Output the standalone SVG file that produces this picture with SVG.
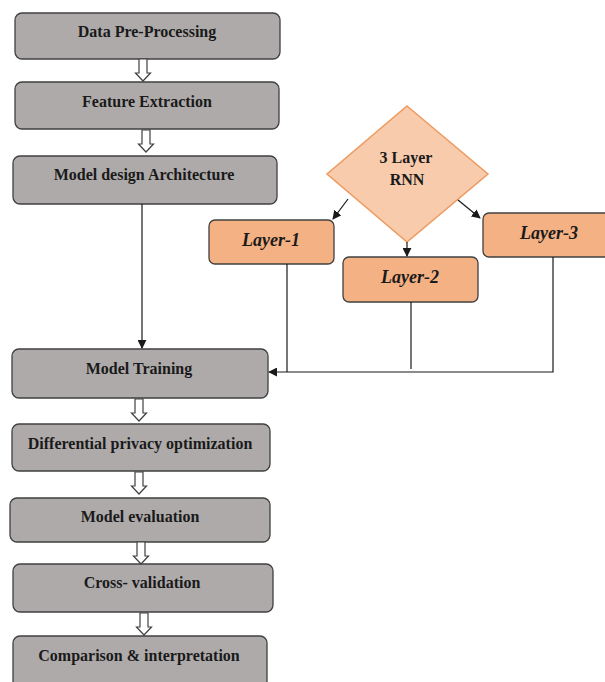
<svg xmlns="http://www.w3.org/2000/svg" width="605" height="682" viewBox="0 0 605 682">
<defs>
<style>
.box{fill:#aeaaaa;stroke:#404040;stroke-width:1.3}
.lay{fill:#f4b183;stroke:#404040;stroke-width:1.3}
.dia{fill:#f8cbad;stroke:#ed9a5f;stroke-width:1.5}
.t{font-family:"Liberation Serif","Times New Roman",serif;font-weight:bold;font-size:16px;fill:#1a1a1a;text-anchor:middle}
.ti{font-family:"Liberation Serif","Times New Roman",serif;font-weight:bold;font-style:italic;font-size:18px;fill:#1a1a1a;text-anchor:middle}
.ln{fill:none;stroke:#1a1a1a;stroke-width:1.2}
.hol{fill:#ffffff;stroke:#404040;stroke-width:1.2}
</style>
<marker id="ah" viewBox="0 0 10 10" refX="9" refY="5" markerWidth="9" markerHeight="9" orient="auto" markerUnits="userSpaceOnUse">
<path d="M0,0 L10,5 L0,10 z" fill="#1a1a1a"/>
</marker>
<path id="hollow" d="M-4,0 L4,0 L4,14 L7.5,14 L0,22 L-7.5,14 L-4,14 Z"/>
</defs>
<rect width="605" height="682" fill="#ffffff"/>

<g id="n1"><rect class="box" x="15" y="13" width="265" height="46" rx="7"/><text class="t" x="147" y="37">Data Pre-Processing</text></g>
<g id="n2"><rect class="box" x="15" y="82" width="264" height="47" rx="7"/><text class="t" x="147" y="107">Feature Extraction</text></g>
<g id="n3"><rect class="box" x="13" y="156" width="264" height="48" rx="7"/><text class="t" x="144" y="180">Model design Architecture</text></g>
<g id="n4"><rect class="box" x="12" y="349" width="256" height="49" rx="7"/><text class="t" x="139" y="374">Model Training</text></g>
<g id="n5"><rect class="box" x="12" y="424" width="258" height="47" rx="7"/><text class="t" x="140" y="449">Differential privacy optimization</text></g>
<g id="n6"><rect class="box" x="10" y="498" width="260" height="44" rx="7"/><text class="t" x="140" y="522">Model evaluation</text></g>
<g id="n7"><rect class="box" x="13" y="564" width="260" height="48" rx="7"/><text class="t" x="142" y="588">Cross- validation</text></g>
<g id="n8"><rect class="box" x="13" y="636" width="254" height="56" rx="7"/><text class="t" x="139" y="661">Comparison &amp; interpretation</text></g>

<g id="rnn"><polygon class="dia" points="407,106 488,174 407,242 327,174"/><text class="t" x="406" y="163">3 Layer</text><text class="t" x="407" y="185">RNN</text></g>
<g id="l1"><rect class="lay" x="209" y="220" width="125" height="44" rx="6"/><text class="ti" x="271" y="246">Layer-1</text></g>
<g id="l2"><rect class="lay" x="343" y="257" width="135" height="45" rx="6"/><text class="ti" x="410" y="283">Layer-2</text></g>
<g id="l3"><rect class="lay" x="483" y="213" width="135" height="44" rx="6"/><text class="ti" x="549" y="239">Layer-3</text></g>

<g id="connectors">
<use href="#hollow" class="hol" x="143" y="59"/>
<use href="#hollow" class="hol" x="146" y="130"/>
<use href="#hollow" class="hol" x="139" y="399"/>
<use href="#hollow" class="hol" x="139" y="472"/>
<use href="#hollow" class="hol" x="141" y="542"/>
<use href="#hollow" class="hol" x="144" y="613"/>
<line class="ln" x1="142" y1="204" x2="142" y2="348" marker-end="url(#ah)"/>
<line class="ln" x1="348" y1="199" x2="333" y2="219" marker-end="url(#ah)"/>
<line class="ln" x1="407" y1="242" x2="407" y2="256" marker-end="url(#ah)"/>
<line class="ln" x1="458" y1="200" x2="480" y2="218" marker-end="url(#ah)"/>
<line class="ln" x1="287" y1="264" x2="287" y2="372"/>
<line class="ln" x1="411" y1="302" x2="411" y2="369"/>
<polyline class="ln" points="553,257 553,372 269,372" marker-end="url(#ah)"/>
</g>
</svg>
